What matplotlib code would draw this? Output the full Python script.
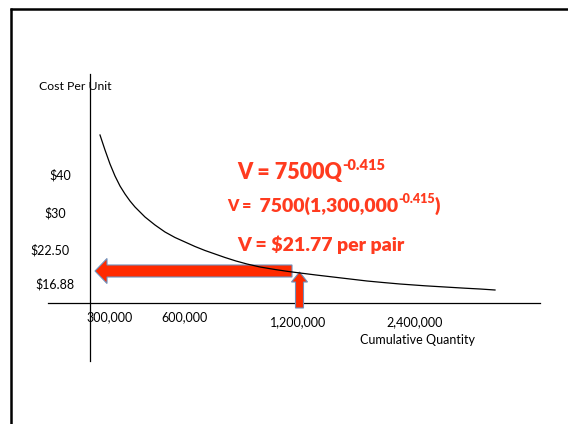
import matplotlib
matplotlib.use("Agg")
import matplotlib.pyplot as plt
from matplotlib.patches import FancyArrow

# ---- data (schematic layout in pixel units) ----
curve_x = [100, 105, 110, 115, 120, 125, 130, 135, 145, 155, 165, 175, 185, 195, 205,
           215, 225, 236, 247, 260, 275, 287, 300, 316, 333, 350, 367, 383,
           400, 425, 450, 465, 480, 495]
curve_y = [135, 150, 164, 176, 186, 194, 201, 207, 217, 225, 232, 237.5, 242, 246.5, 250.5,
           254, 257.5, 261, 264, 267, 269.5, 271.3, 273, 275, 277, 279, 281, 282.5,
           284, 285.8, 287.3, 288.2, 289, 290]

x_tick_labels = ["300,000", "600,000", "1,200,000", "2,400,000"]
x_tick_pos = [110, 185, 298, 415]
x_tick_y = [317, 317, 322, 322]

y_tick_labels = ["$40", "$30", "$22.50", "$16.88"]
y_tick_pos = [175, 213, 250, 284]
y_tick_x = [60, 55, 50, 55]

RED = "#ff3b1f"
ARROW = "#ff2a00"
ARROW_EDGE = "#6f8fba"
FONT = "Lato"

fig = plt.figure(figsize=(5.68, 4.24), dpi=100)
ax = fig.add_axes([0, 0, 1, 1])
ax.set_xlim(0, 568)
ax.set_ylim(424, 0)
ax.axis("off")

# slide frame
ax.plot([10, 568], [9, 9], color="black", lw=1.8, solid_capstyle="butt")
ax.plot([11, 11], [8, 424], color="black", lw=1.8, solid_capstyle="butt")

# axes lines
ax.plot([90, 90], [74, 361], color="black", lw=0.9)
ax.plot([48, 540], [303, 303], color="black", lw=0.9)

# arrows
ax.add_patch(FancyArrow(292, 271, -197, 0, width=12, head_width=25, head_length=12,
                        length_includes_head=True, facecolor=ARROW, edgecolor=ARROW_EDGE,
                        lw=0.8, zorder=3))
ax.add_patch(FancyArrow(299.5, 308, 0, -36, width=8, head_width=16, head_length=10,
                        length_includes_head=True, facecolor=ARROW, edgecolor=ARROW_EDGE,
                        lw=0.8, zorder=4))

# curve
ax.plot(curve_x, curve_y, color="black", lw=0.9, zorder=5, solid_joinstyle="round")

# tick labels
for lab, xp, yp in zip(x_tick_labels, x_tick_pos, x_tick_y):
    ax.text(xp, yp, lab, ha="center", va="center", fontsize=9, family=FONT)
for lab, yp, xp in zip(y_tick_labels, y_tick_pos, y_tick_x):
    ax.text(xp, yp, lab, ha="center", va="center", fontsize=9, family=FONT)

ax.text(75, 87, "Cost Per Unit", ha="center", va="center", fontsize=8.8, family=FONT)
ax.text(417, 340, "Cumulative Quantity", ha="center", va="center", fontsize=9, family=FONT)

# equations
t1 = ax.text(237, 173, "V = 7500Q", ha="left", va="center", fontsize=15.5,
             fontweight="heavy", color=RED, family=FONT)
ax.annotate("-0.415", xy=(1.0, 0.55), xycoords=t1, ha="left", va="bottom",
            fontsize=10.5, fontweight="heavy", color=RED, family=FONT)

t2a = ax.text(227, 206, "V = ", ha="left", va="center", fontsize=11.5,
              fontweight="heavy", color=RED, family=FONT)
t2b = ax.annotate(" 7500(1,300,000", xy=(1.0, 0.5), xycoords=t2a, ha="left", va="center",
                  fontsize=14, fontweight="heavy", color=RED, family=FONT)
t2c = ax.annotate("-0.415", xy=(1.0, 0.55), xycoords=t2b, ha="left", va="bottom",
                  fontsize=9, fontweight="heavy", color=RED, family=FONT)
ax.annotate(")", xy=(1.0, 0.5), xycoords=(t2c, t2b), ha="left", va="center",
            fontsize=14, fontweight="heavy", color=RED, family=FONT)

ax.text(237, 245, "V = $21.77 per pair", ha="left", va="center", fontsize=14,
        fontweight="heavy", color=RED, family=FONT)

fig.savefig("out.png", dpi=100)
